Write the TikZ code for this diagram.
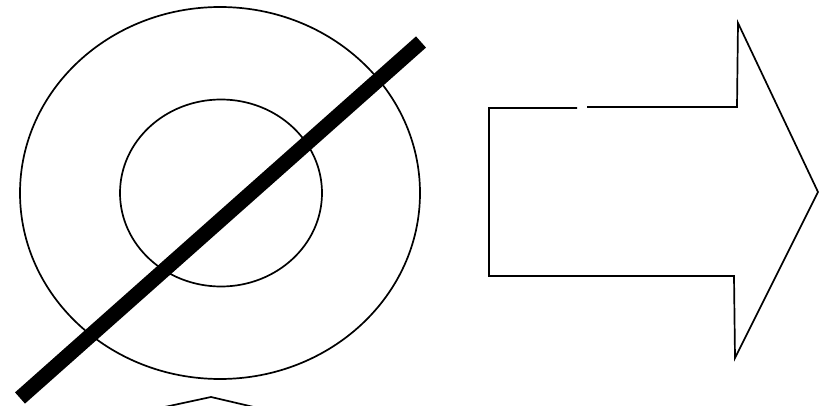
\documentclass[tikz,border=0pt]{standalone}
\begin{document}
\begin{tikzpicture}[x=1pt,y=-1pt,
  thinline/.style={draw=black,line width=1.7pt},
  bar/.style={draw=black,line width=15pt,line cap=butt}]
\useasboundingbox (0,0) rectangle (825,406);
\clip (0,0) rectangle (825,406);
% rings
\coordinate (c) at (220,193);
\draw[thinline] (c) ellipse [x radius=200, y radius=186];
\draw[thinline] (221,193) ellipse [x radius=101, y radius=93.5];
% diagonal bar
\coordinate (b1) at (20,398);
\coordinate (b2) at (421,42);
\draw[bar] (b1) -- (b2);
% partial caret at bottom
\coordinate (k1) at (160,408);
\coordinate (k2) at (211,397);
\coordinate (k3) at (258,408);
\draw[thinline,line join=miter] (k1) -- (k2) -- (k3);
% block arrow
\coordinate (a1) at (577,108);
\coordinate (a2) at (489,108);
\coordinate (a3) at (489,276);
\coordinate (a4) at (734,276);
\coordinate (a5) at (735,358);
\coordinate (a6) at (818,192);
\coordinate (a7) at (738,23);
\coordinate (a8) at (737,107);
\coordinate (a9) at (587,107);
\draw[thinline,line join=miter] (a1) -- (a2) -- (a3) -- (a4) -- (a5) -- (a6) -- (a7) -- (a8) -- (a9);
\end{tikzpicture}
\end{document}
